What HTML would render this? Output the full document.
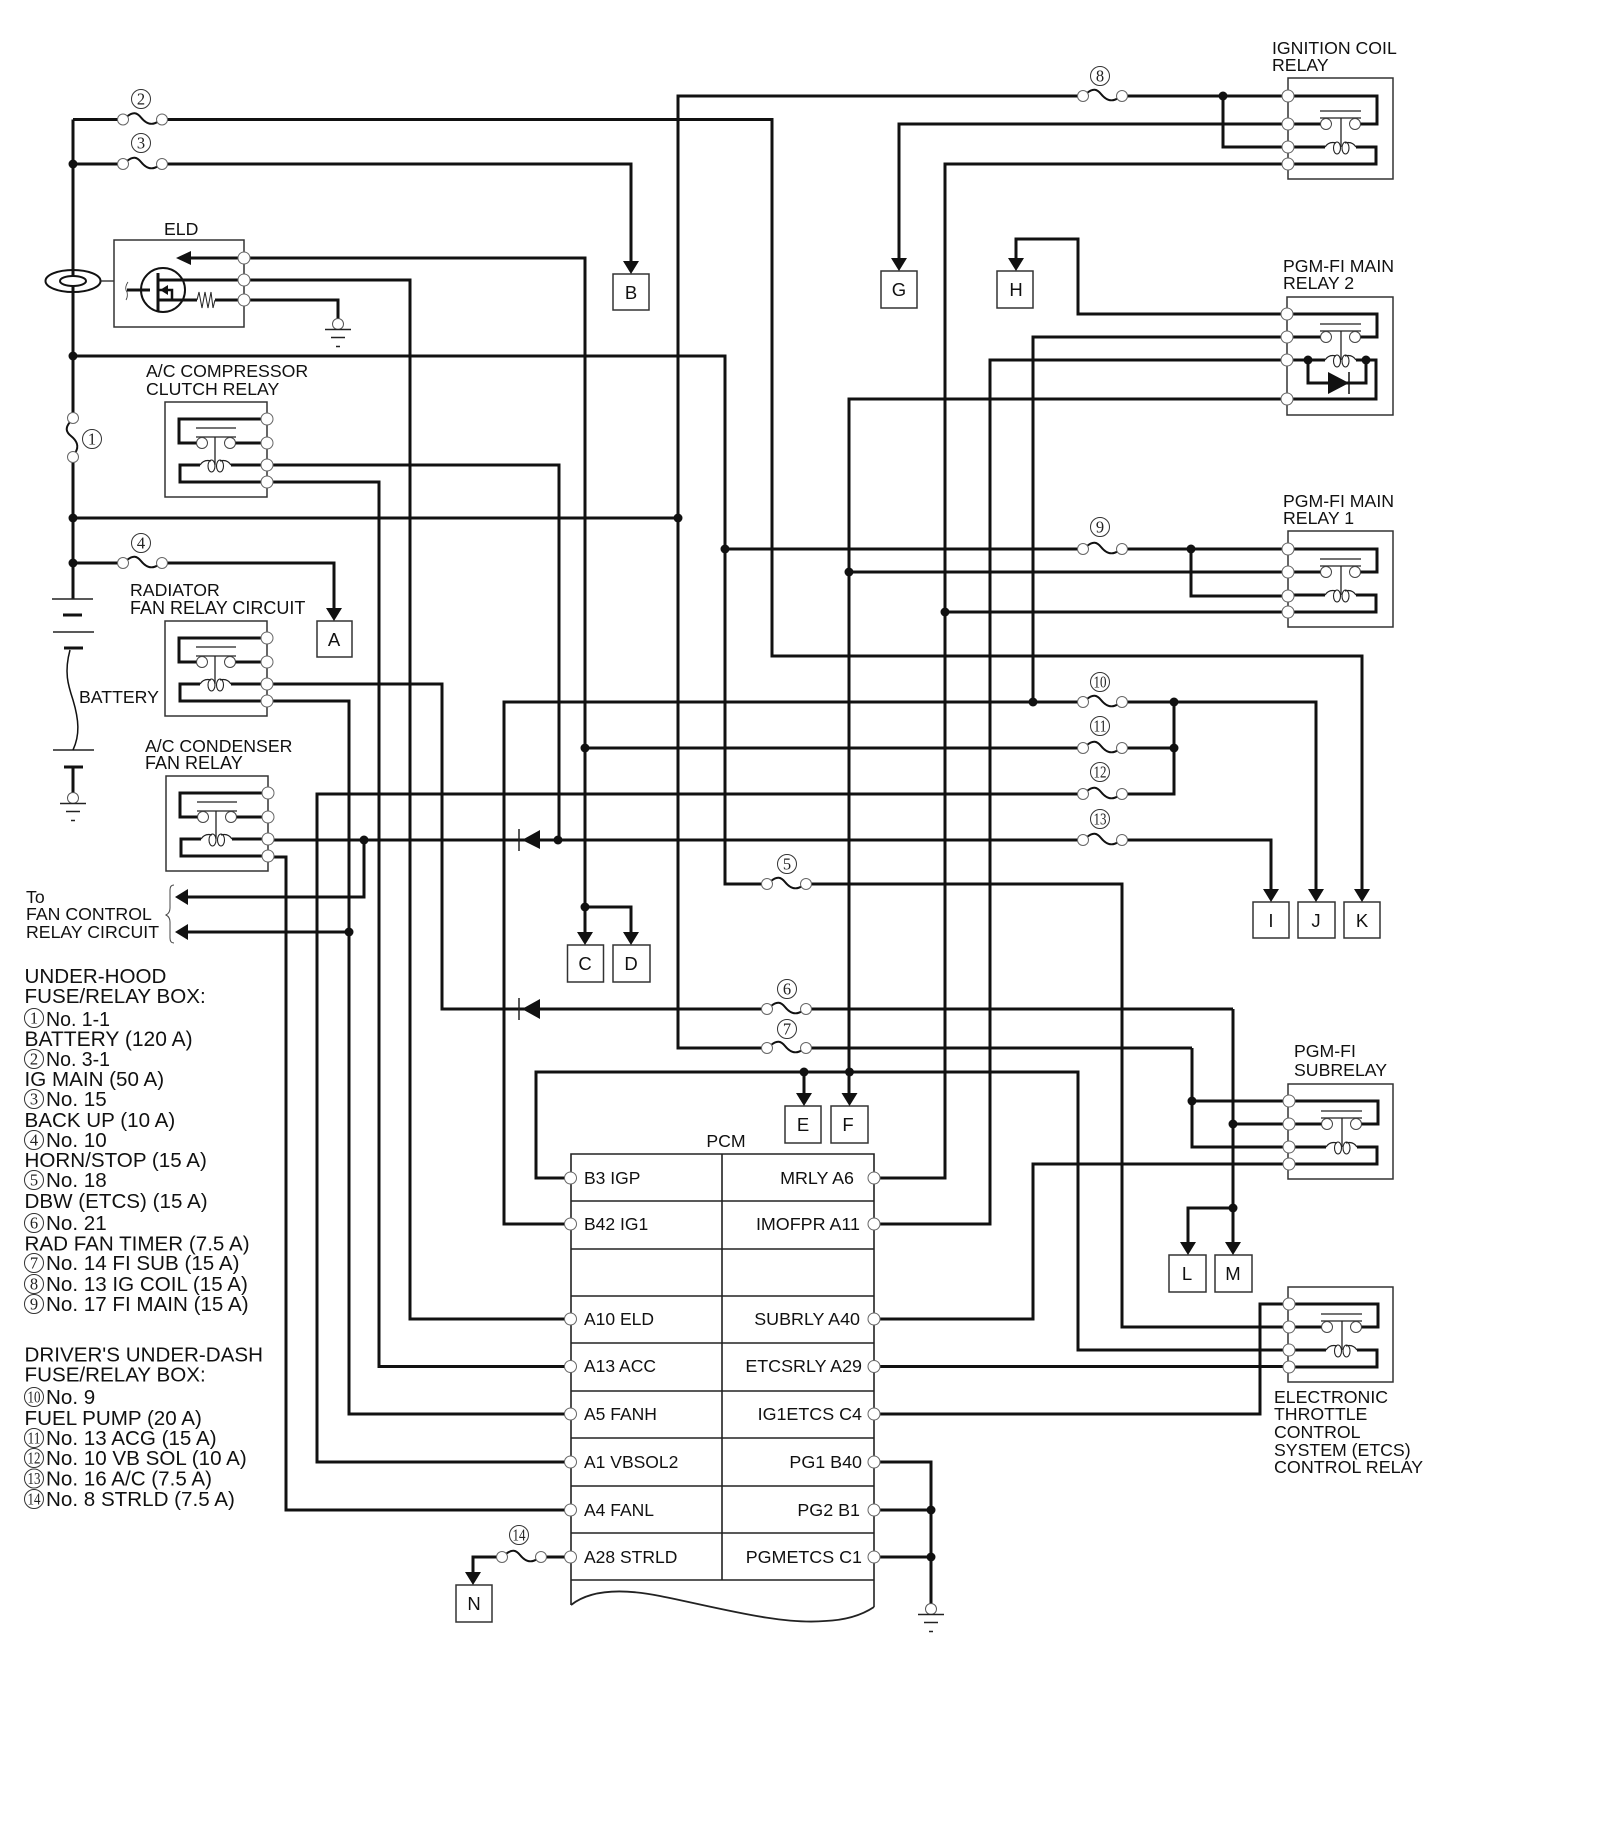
<!DOCTYPE html>
<html>
<head>
<meta charset="utf-8">
<title>Wiring diagram</title>
<style>
html,body{margin:0;padding:0;background:#fff;}
svg{display:block;}
text{font-family:"Liberation Sans",Arial,sans-serif;fill:#111;}
.l{font-size:17.7px;}
.p{font-size:17.5px;}
.b{font-size:18.5px;text-anchor:middle;}
.g{font-size:20.6px;}
.n{font-family:"Liberation Serif",serif;font-size:16.5px;text-anchor:middle;fill:#222;}
.w{fill:none;stroke:#111;stroke-width:3;stroke-linejoin:miter;}
.t{fill:none;stroke:#222;stroke-width:1.3;}
</style>
</head>
<body>
<svg width="1600" height="1838" viewBox="0 0 1600 1838" xmlns="http://www.w3.org/2000/svg">
<defs>
<g id="pin"><circle r="6" fill="#fff" stroke="#666" stroke-width="1"/></g>
<g id="fuse">
<path d="M4,-3 C10,-8 14,-7 18,-2 C22,3 28,7 35,2" fill="none" stroke="#111" stroke-width="2"/>
<circle cx="0" cy="0" r="5.5" fill="#fff" stroke="#666" stroke-width="1"/>
<circle cx="39" cy="0" r="5.5" fill="#fff" stroke="#666" stroke-width="1"/>
</g>
<g id="gnd">
<circle r="5.5" fill="#fff" stroke="#555" stroke-width="1"/>
<path d="M-13,5.5 H13 M-7,13.5 H7 M-2,22.5 H2" stroke="#222" stroke-width="1.4" fill="none"/>
</g>
<path id="ad" d="M-8,-12 H8 L0,1 Z" fill="#111"/>
<path id="al" d="M13,-8 V8 L0,0 Z" fill="#111"/>
<circle id="j" r="4.5" fill="#111"/>
<g id="ra">
<rect x="0" y="0" width="102" height="95" fill="none" stroke="#333" stroke-width="1.5"/>
<path class="w" d="M102,17 H14 V41 H33 M70,41 H102 M35,63 H15 V80 H102 M66,63 H102"/>
<path class="t" d="M31,26 H71 M31,35 H71 M50,35 V63"/>
<circle cx="37" cy="41" r="5.5" fill="#fff" stroke="#444" stroke-width="1"/>
<circle cx="65" cy="41" r="5.5" fill="#fff" stroke="#444" stroke-width="1"/>
<path class="t" d="M35,63 Q39,57 46,59 M55,59 Q62,57 66,63"/>
<ellipse cx="46.5" cy="64" rx="3.5" ry="6" fill="none" stroke="#222" stroke-width="1.1"/>
<ellipse cx="55" cy="64" rx="3.5" ry="6" fill="none" stroke="#222" stroke-width="1.1"/>
<use href="#pin" x="102" y="17"/><use href="#pin" x="102" y="41"/><use href="#pin" x="102" y="63"/><use href="#pin" x="102" y="80"/>
</g>
<g id="rb">
<path class="t" d="M32,-13 H73 M32,-6 H73 M53,-6 V23"/>
<circle cx="38" cy="0" r="5.5" fill="#fff" stroke="#444" stroke-width="1"/>
<circle cx="67" cy="0" r="5.5" fill="#fff" stroke="#444" stroke-width="1"/>
<path class="t" d="M37,23 Q41,17 48,19 M57,19 Q64,17 68,23"/>
<ellipse cx="49" cy="24" rx="3.5" ry="6" fill="none" stroke="#222" stroke-width="1.1"/>
<ellipse cx="57.5" cy="24" rx="3.5" ry="6" fill="none" stroke="#222" stroke-width="1.1"/>
</g>
</defs>

<rect width="1600" height="1838" fill="#fff"/>

<g class="w">
<path d="M73,119.5 V599"/>
<path d="M73,119.5 H123 M162,119.5 H772 V656 H1362 V892"/>
<path d="M73,164 H123 M162,164 H631 V264"/>
<path d="M73,356 H725 V884 H767 M806,884 H1122 V1327 H1288"/>
<path d="M73,518 H678"/>
<path d="M1083,96 H678 V1048 H767 M806,1048 H1192 M1192,1048 V1147 H1288 M1192,1101 H1288"/>
<path d="M1123,96 H1288 M1223,96 V147 H1288"/>
<path d="M899,262 V124 H1288"/>
<path d="M880,1178 H945 V164 H1288"/>
<path d="M1016,262 V239 H1078 V314 H1288"/>
<path d="M1033,702 V337 H1288"/>
<path d="M874,1224 H990 V360 H1288"/>
<path d="M849,1096 V399 H1288"/>
<path d="M725,549 H1083 M1123,549 H1288 M1191,549 V596 H1288"/>
<path d="M849,572 H1288"/>
<path d="M945,612 H1288"/>
<path d="M570,1224 H504 V702 H1083 M1123,702 H1316 V892"/>
<path d="M244,258 H585 V935 M585,907 H631 V935"/>
<path d="M585,748 H1083 M1123,748 H1174 M1174,702 V794 H1123"/>
<path d="M570,1462 H317 V794 H1083"/>
<path d="M268,840 H1083 M1123,840 H1271 V892"/>
<path d="M267,684 H442 V1009 H767 M806,1009 H1233"/>
<path d="M1233,1009 V1245 M1233,1124 H1288 M1233,1208 H1188 V1245"/>
<path d="M267,701 H349 V1414 H570"/>
<path d="M268,857 H286 V1510 H570"/>
<path d="M267,465 H559 V840"/>
<path d="M267,482 H379 V1366.5 H570"/>
<path d="M244,280 H410 V1319 H570"/>
<path d="M364,840 V897 H186 M349,932 H186"/>
<path d="M570,1178 H536 V1072 H1078 V1350 H1288"/>
<path d="M804,1072 V1096"/>
<path d="M874,1319 H1033 V1164 H1288"/>
<path d="M874,1366.5 H1288"/>
<path d="M874,1414 H1260 V1304 H1288"/>
<path d="M874,1462 H931 V1604 M874,1510 H931 M874,1557 H931"/>
<path d="M570,1557 H541 M502,1557 H473 V1574"/>
<path d="M244,300 H338 V319"/>
<path d="M334,612 V563 H162 M123,563 H73"/>
</g>

<ellipse cx="73" cy="281" rx="27.5" ry="11" fill="#fff" stroke="#111" stroke-width="2"/>
<path class="w" d="M73,270 V276 M73,286 V292"/>
<ellipse cx="73" cy="281" rx="13" ry="5" fill="#fff" stroke="#111" stroke-width="2"/>
<path class="t" d="M100,281 H114"/>

<rect x="114" y="240" width="130" height="87" fill="#fff" stroke="#333" stroke-width="1.5"/>
<path class="w" d="M244,258 H188 M244,280 H158 M244,300 H215 M197,300 H158 M127,290 H150 M158,273 V312"/>
<path d="M176,258 L191,251 V265 Z" fill="#111"/>
<circle cx="163" cy="290" r="22" fill="none" stroke="#111" stroke-width="2"/>
<path d="M158,290 H172 V300" fill="none" stroke="#111" stroke-width="2.5"/>
<path d="M160,290 L168,285 V295 Z" fill="#111"/>
<path d="M197,300 L199,292 L202,308 L205,292 L208,308 L211,292 L213,308 L215,300" fill="none" stroke="#222" stroke-width="1"/>
<path d="M128,282 Q124,288 127,292 Q128,297 126,300" fill="none" stroke="#333" stroke-width="0.8"/>
<use href="#pin" x="244" y="258"/><use href="#pin" x="244" y="280"/><use href="#pin" x="244" y="300"/>
<use href="#gnd" x="338" y="324"/>

<path d="M52,599 H93 M53,632 H94 M53,750 H94" stroke="#222" stroke-width="1.5" fill="none"/>
<path d="M63,615 H82 M64,648 H83 M64,767 H83" stroke="#111" stroke-width="3" fill="none"/>
<path d="M70,650 C64,672 68,685 73,700 C79,720 80,735 73,750" fill="none" stroke="#111" stroke-width="1.5"/>
<path class="w" d="M73,767 V793"/>
<use href="#gnd" x="73" y="798"/>

<use href="#ra" x="165" y="402"/>
<use href="#ra" x="165" y="621"/>
<use href="#ra" x="166" y="776"/>

<rect x="1288" y="78" width="105" height="101" fill="none" stroke="#333" stroke-width="1.5"/>
<path class="w" d="M1288,96 H1377 V124 H1360 M1288,124 H1321 M1288,147 H1325 M1356,147 H1376 V164 H1288"/>
<use href="#rb" x="1288" y="124"/>
<use href="#pin" x="1288" y="96"/><use href="#pin" x="1288" y="124"/><use href="#pin" x="1288" y="147"/><use href="#pin" x="1288" y="164"/>

<rect x="1287" y="297" width="106" height="118" fill="none" stroke="#333" stroke-width="1.5"/>
<path class="w" d="M1288,314 H1377 V337 H1360 M1288,337 H1321 M1288,360 H1325 M1356,360 H1376 V399 H1288 M1308,360 V383 H1366 V360"/>
<use href="#rb" x="1288" y="337"/>
<path d="M1328,372 L1349,383 L1328,394 Z" fill="#111"/>
<path d="M1349,372 V394" stroke="#111" stroke-width="1.5"/>
<use href="#j" x="1308" y="360"/><use href="#j" x="1366" y="360"/>
<use href="#pin" x="1287" y="314"/><use href="#pin" x="1287" y="337"/><use href="#pin" x="1287" y="360"/><use href="#pin" x="1287" y="399"/>

<rect x="1288" y="531" width="105" height="96" fill="none" stroke="#333" stroke-width="1.5"/>
<path class="w" d="M1288,549 H1377 V572 H1360 M1288,572 H1321 M1288,595 H1325 M1356,595 H1376 V612 H1288"/>
<use href="#rb" x="1288" y="572"/>
<use href="#pin" x="1288" y="549"/><use href="#pin" x="1288" y="572"/><use href="#pin" x="1288" y="596"/><use href="#pin" x="1288" y="612"/>

<rect x="1288" y="1084" width="105" height="95" fill="none" stroke="#333" stroke-width="1.5"/>
<path class="w" d="M1288,1101 H1378 V1124 H1361 M1288,1124 H1322 M1288,1147 H1326 M1357,1147 H1377 V1164 H1288"/>
<use href="#rb" x="1289" y="1124"/>
<use href="#pin" x="1289" y="1101"/><use href="#pin" x="1289" y="1124"/><use href="#pin" x="1289" y="1147"/><use href="#pin" x="1289" y="1164"/>

<rect x="1288" y="1287" width="105" height="95" fill="none" stroke="#333" stroke-width="1.5"/>
<path class="w" d="M1288,1304 H1378 V1327 H1361 M1288,1327 H1322 M1288,1350 H1326 M1357,1350 H1377 V1367 H1288"/>
<use href="#rb" x="1289" y="1327"/>
<use href="#pin" x="1289" y="1304"/><use href="#pin" x="1289" y="1327"/><use href="#pin" x="1289" y="1350"/><use href="#pin" x="1289" y="1367"/>

<path d="M522,840 L540,830 V849 Z" fill="#111"/><path d="M519,829 V851" stroke="#222" stroke-width="1.5"/>
<path d="M522,1009 L540,999 V1019 Z" fill="#111"/><path d="M519,998 V1020" stroke="#222" stroke-width="1.5"/>

<path d="M571,1605 V1154 H874 V1607 M722,1154 V1580 M571,1201 H874 M571,1249 H874 M571,1296 H874 M571,1343 H874 M571,1391 H874 M571,1438 H874 M571,1486 H874 M571,1533 H874 M571,1580 H874" fill="none" stroke="#222" stroke-width="1.6"/>
<path d="M571,1605 C590,1590 620,1588 660,1596 C720,1608 780,1625 825,1621 C850,1620 865,1613 874,1607" fill="none" stroke="#222" stroke-width="1.8"/>
<use href="#pin" x="570.5" y="1178"/><use href="#pin" x="570.5" y="1224"/><use href="#pin" x="570.5" y="1319"/><use href="#pin" x="570.5" y="1366.5"/><use href="#pin" x="570.5" y="1414"/><use href="#pin" x="570.5" y="1462"/><use href="#pin" x="570.5" y="1510"/><use href="#pin" x="570.5" y="1557"/>
<use href="#pin" x="874" y="1178"/><use href="#pin" x="874" y="1224"/><use href="#pin" x="874" y="1319"/><use href="#pin" x="874" y="1366.5"/><use href="#pin" x="874" y="1414"/><use href="#pin" x="874" y="1462"/><use href="#pin" x="874" y="1510"/><use href="#pin" x="874" y="1557"/>
<use href="#gnd" x="931" y="1609"/>

<use href="#fuse" x="123" y="119.5"/>
<use href="#fuse" x="123" y="164"/>
<use href="#fuse" x="123" y="563"/>
<g transform="matrix(0,1,1,0,73,418)"><rect x="5" y="-12" width="30" height="24" fill="#fff"/><use href="#fuse"/></g>
<use href="#fuse" x="1083" y="96"/>
<use href="#fuse" x="1083" y="549"/>
<use href="#fuse" x="1083" y="702"/>
<use href="#fuse" x="1083" y="748"/>
<use href="#fuse" x="1083" y="794"/>
<use href="#fuse" x="1083" y="840"/>
<use href="#fuse" x="767" y="884"/>
<use href="#fuse" x="767" y="1009"/>
<use href="#fuse" x="767" y="1048"/>
<use href="#fuse" x="502" y="1557"/>

<g fill="#fff" stroke="#333" stroke-width="1">
<circle cx="141" cy="99" r="9.5"/><circle cx="141" cy="143" r="9.5"/><circle cx="92" cy="439" r="9.5"/><circle cx="141" cy="543" r="9.5"/>
<circle cx="1100" cy="76" r="9.5"/><circle cx="1100" cy="527" r="9.5"/><circle cx="1100" cy="682" r="9.5"/><circle cx="1100" cy="726" r="9.5"/><circle cx="1100" cy="772" r="9.5"/><circle cx="1100" cy="819" r="9.5"/>
<circle cx="787" cy="864" r="9.5"/><circle cx="787" cy="989" r="9.5"/><circle cx="787" cy="1029" r="9.5"/><circle cx="519" cy="1535" r="9.5"/>
</g>
<text class="n" x="141" y="104.5">2</text>
<text class="n" x="141" y="148.5">3</text>
<text class="n" x="92" y="444.5">1</text>
<text class="n" x="141" y="548.5">4</text>
<text class="n" x="1100" y="81.5">8</text>
<text class="n" x="1100" y="532.5">9</text>
<text class="n" x="1100" y="687.5" textLength="13" lengthAdjust="spacingAndGlyphs">10</text>
<text class="n" x="1100" y="731.5" textLength="13" lengthAdjust="spacingAndGlyphs">11</text>
<text class="n" x="1100" y="777.5" textLength="13" lengthAdjust="spacingAndGlyphs">12</text>
<text class="n" x="1100" y="824.5" textLength="13" lengthAdjust="spacingAndGlyphs">13</text>
<text class="n" x="787" y="869.5">5</text>
<text class="n" x="787" y="994.5">6</text>
<text class="n" x="787" y="1034.5">7</text>
<text class="n" x="519" y="1540.5" textLength="13" lengthAdjust="spacingAndGlyphs">14</text>

<g fill="#fff" stroke="#333" stroke-width="1.5">
<rect x="317" y="621" width="35" height="36"/>
<rect x="613" y="274" width="36" height="36"/>
<rect x="881" y="271" width="36" height="37"/>
<rect x="997" y="271" width="36" height="37"/>
<rect x="567.5" y="945" width="36" height="37"/>
<rect x="613" y="945" width="37" height="37"/>
<rect x="785" y="1106" width="36" height="37"/>
<rect x="831" y="1106" width="37" height="37"/>
<rect x="1253" y="902" width="36" height="36"/>
<rect x="1298" y="902" width="37" height="36"/>
<rect x="1344" y="902" width="36" height="36"/>
<rect x="1169" y="1255" width="37" height="37"/>
<rect x="1215" y="1255" width="37" height="37"/>
<rect x="456" y="1585" width="36" height="37"/>
</g>
<use href="#ad" x="334" y="620"/>
<use href="#ad" x="631" y="273"/>
<use href="#ad" x="899" y="270"/>
<use href="#ad" x="1016" y="270"/>
<use href="#ad" x="585" y="944"/>
<use href="#ad" x="631" y="944"/>
<use href="#ad" x="804" y="1105"/>
<use href="#ad" x="849.5" y="1105"/>
<use href="#ad" x="1271" y="901"/>
<use href="#ad" x="1316" y="901"/>
<use href="#ad" x="1362" y="901"/>
<use href="#ad" x="1188" y="1254"/>
<use href="#ad" x="1233" y="1254"/>
<use href="#ad" x="473" y="1584"/>
<use href="#al" x="175" y="897"/>
<use href="#al" x="175" y="932"/>

<text class="b" x="334" y="646">A</text>
<text class="b" x="631" y="299">B</text>
<text class="b" x="899" y="296">G</text>
<text class="b" x="1016" y="296">H</text>
<text class="b" x="585" y="970">C</text>
<text class="b" x="631" y="970">D</text>
<text class="b" x="803" y="1131">E</text>
<text class="b" x="848" y="1131">F</text>
<text class="b" x="1271" y="927">I</text>
<text class="b" x="1316" y="927">J</text>
<text class="b" x="1362" y="927">K</text>
<text class="b" x="1187" y="1280">L</text>
<text class="b" x="1233" y="1280">M</text>
<text class="b" x="474" y="1610">N</text>

<use href="#j" x="73" y="164"/><use href="#j" x="73" y="356"/><use href="#j" x="73" y="518"/><use href="#j" x="73" y="563"/>
<use href="#j" x="678" y="518"/><use href="#j" x="725" y="549"/><use href="#j" x="849" y="572"/><use href="#j" x="945" y="612"/>
<use href="#j" x="1033" y="702"/><use href="#j" x="585" y="748"/><use href="#j" x="558" y="840"/><use href="#j" x="364" y="840"/>
<use href="#j" x="349" y="932"/><use href="#j" x="585" y="907"/><use href="#j" x="804" y="1072"/><use href="#j" x="849.5" y="1072"/>
<use href="#j" x="1223" y="96"/><use href="#j" x="1191" y="549"/><use href="#j" x="1174" y="702"/><use href="#j" x="1174" y="748"/>
<use href="#j" x="1192" y="1101"/><use href="#j" x="1233" y="1124"/><use href="#j" x="1233" y="1208"/>
<use href="#j" x="931" y="1510"/><use href="#j" x="931" y="1557"/>

<path d="M174,885 Q170,885 170,890 V908 Q170,913 166,915 Q170,917 170,922 V938 Q170,943 174,943" fill="none" stroke="#444" stroke-width="1"/>

<text class="l" x="164" y="235">ELD</text>
<text class="l" x="146" y="377">A/C COMPRESSOR</text>
<text class="l" x="146" y="395">CLUTCH RELAY</text>
<text class="l" x="130" y="596">RADIATOR</text>
<text class="l" x="130" y="614" style="font-size:18px">FAN RELAY CIRCUIT</text>
<text class="l" x="79" y="703">BATTERY</text>
<text class="l" x="145" y="752">A/C CONDENSER</text>
<text class="l" x="145" y="769" style="font-size:18px">FAN RELAY</text>
<text class="l" x="26" y="903">To</text>
<text class="l" x="26" y="920">FAN CONTROL</text>
<text class="l" x="26" y="938">RELAY CIRCUIT</text>
<text class="l" x="1272" y="54">IGNITION COIL</text>
<text class="l" x="1272" y="71">RELAY</text>
<text class="l" x="1283" y="272">PGM-FI MAIN</text>
<text class="l" x="1283" y="289">RELAY 2</text>
<text class="l" x="1283" y="507">PGM-FI MAIN</text>
<text class="l" x="1283" y="524">RELAY 1</text>
<text class="l" x="1294" y="1057">PGM-FI</text>
<text class="l" x="1294" y="1076">SUBRELAY</text>
<text class="l" x="1274" y="1403">ELECTRONIC</text>
<text class="l" x="1274" y="1420">THROTTLE</text>
<text class="l" x="1274" y="1438">CONTROL</text>
<text class="l" x="1274" y="1456">SYSTEM (ETCS)</text>
<text class="l" x="1274" y="1473" style="font-size:17.9px">CONTROL RELAY</text>
<text class="l" x="726" y="1147" text-anchor="middle">PCM</text>

<g class="p">
<text x="584" y="1184">B3 IGP</text>
<text x="584" y="1230">B42 IG1</text>
<text x="584" y="1325">A10 ELD</text>
<text x="584" y="1372">A13 ACC</text>
<text x="584" y="1420">A5 FANH</text>
<text x="584" y="1468">A1 VBSOL2</text>
<text x="584" y="1516">A4 FANL</text>
<text x="584" y="1563">A28 STRLD</text>
<g text-anchor="end" style="font-size:17.9px">
<text x="854" y="1184">MRLY A6</text>
<text x="860" y="1230">IMOFPR A11</text>
<text x="860" y="1325">SUBRLY A40</text>
<text x="862" y="1372">ETCSRLY A29</text>
<text x="862" y="1420">IG1ETCS C4</text>
<text x="862" y="1468">PG1 B40</text>
<text x="860" y="1516">PG2 B1</text>
<text x="862" y="1563">PGMETCS C1</text>
</g>
</g>

<g class="g">
<text x="24.5" y="983">UNDER-HOOD</text>
<text x="24.5" y="1003">FUSE/RELAY BOX:</text>
<text x="46" y="1026" textLength="64" lengthAdjust="spacingAndGlyphs">No. 1-1</text>
<text x="24.5" y="1046" style="font-size:21px">BATTERY (120 A)</text>
<text x="46" y="1066" textLength="64" lengthAdjust="spacingAndGlyphs">No. 3-1</text>
<text x="24.5" y="1086">IG MAIN (50 A)</text>
<text x="46" y="1106">No. 15</text>
<text x="24.5" y="1127">BACK UP (10 A)</text>
<text x="46" y="1147">No. 10</text>
<text x="24.5" y="1167">HORN/STOP (15 A)</text>
<text x="46" y="1187">No. 18</text>
<text x="24.5" y="1208">DBW (ETCS) (15 A)</text>
<text x="46" y="1230">No. 21</text>
<text x="24.5" y="1250.5">RAD FAN TIMER (7.5 A)</text>
<text x="46" y="1270">No. 14 FI SUB (15 A)</text>
<text x="46" y="1291">No. 13 IG COIL (15 A)</text>
<text x="46" y="1311">No. 17 FI MAIN (15 A)</text>
<text x="24.5" y="1361.5">DRIVER'S UNDER-DASH</text>
<text x="24.5" y="1381.5">FUSE/RELAY BOX:</text>
<text x="46" y="1404">No. 9</text>
<text x="24.5" y="1425">FUEL PUMP (20 A)</text>
<text x="46" y="1445">No. 13 ACG (15 A)</text>
<text x="46" y="1465">No. 10 VB SOL (10 A)</text>
<text x="46" y="1485.5">No. 16 A/C (7.5 A)</text>
<text x="46" y="1506">No. 8 STRLD (7.5 A)</text>
</g>
<g fill="none" stroke="#333" stroke-width="1">
<circle cx="34" cy="1018" r="9.5"/><circle cx="34" cy="1059" r="9.5"/><circle cx="34" cy="1099" r="9.5"/><circle cx="34" cy="1140" r="9.5"/><circle cx="34" cy="1180" r="9.5"/><circle cx="34" cy="1223" r="9.5"/><circle cx="34" cy="1263" r="9.5"/><circle cx="34" cy="1284" r="9.5"/><circle cx="34" cy="1304" r="9.5"/>
<circle cx="34" cy="1397" r="9.5"/><circle cx="34" cy="1438" r="9.5"/><circle cx="34" cy="1458" r="9.5"/><circle cx="34" cy="1478.5" r="9.5"/><circle cx="34" cy="1499" r="9.5"/>
</g>
<text class="n" x="34" y="1023.5">1</text>
<text class="n" x="34" y="1064.5">2</text>
<text class="n" x="34" y="1104.5">3</text>
<text class="n" x="34" y="1145.5">4</text>
<text class="n" x="34" y="1185.5">5</text>
<text class="n" x="34" y="1228.5">6</text>
<text class="n" x="34" y="1268.5">7</text>
<text class="n" x="34" y="1289.5">8</text>
<text class="n" x="34" y="1309.5">9</text>
<text class="n" x="34" y="1402.5" textLength="13" lengthAdjust="spacingAndGlyphs">10</text>
<text class="n" x="34" y="1443.5" textLength="13" lengthAdjust="spacingAndGlyphs">11</text>
<text class="n" x="34" y="1463.5" textLength="13" lengthAdjust="spacingAndGlyphs">12</text>
<text class="n" x="34" y="1484" textLength="13" lengthAdjust="spacingAndGlyphs">13</text>
<text class="n" x="34" y="1504.5" textLength="13" lengthAdjust="spacingAndGlyphs">14</text>
</svg>
</body>
</html>
